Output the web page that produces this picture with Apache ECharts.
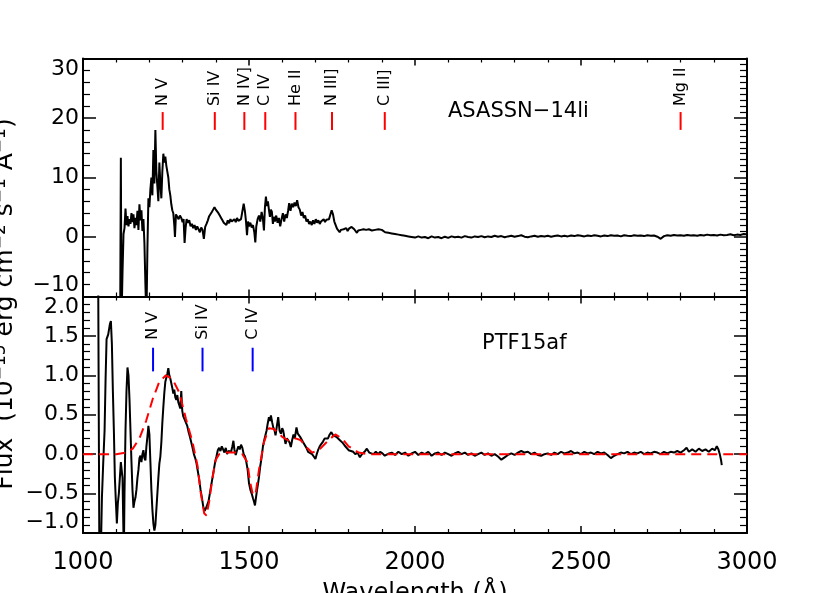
<!DOCTYPE html>
<html><head><meta charset="utf-8">
<script src="https://cdn.jsdelivr.net/npm/echarts@6/dist/echarts.min.js"></script>
<style>html,body{margin:0;padding:0;background:#fff}#c{width:830px;height:593px}</style>
</head><body><div id="c"></div><script>
// ---------- data ----------
const xTicks = [1000, 1500, 2000, 2500, 3000];
const topYTicks = [-10, 0, 10, 20, 30];
const botYTicks = [-1.0, -0.5, 0.0, 0.5, 1.0, 1.5, 2.0];

// ASASSN-14li spectrum [wavelength, flux]
const asassnSpec = [
[1112,-14],[1114,13.3],[1116,-14],[1119,-6],[1122,0.5],[1125,1.5],[1128,4.8],[1131,2],[1134,3.5],[1137,1.8],
[1140,3],[1143,2.2],[1146,4],[1149,2.5],[1152,3.8],[1155,1.5],[1158,3.2],[1161,2],[1164,4.4],[1167,1.2],
[1170,5.5],[1173,2.8],[1176,4.5],[1179,1.0],[1182,3],[1185,-1],[1188,-8],[1191,-14],[1194,-2],[1197,6.5],
[1200,5],[1203,8],[1206,10],[1209,7],[1212,14.6],[1215,9],[1218,18],[1221,11],[1224,8.5],[1227,6],
[1230,12.5],[1233,9],[1236,6.5],[1239,11],[1242,14],[1245,12.5],[1248,13.5],[1251,12],[1254,11],[1257,10],
[1260,8],[1263,7],[1266,5.5],[1269,4.5],[1272,4],[1275,2],[1277,0],[1280,3.8],[1284,3.4],[1288,3],
[1292,3.6],[1296,3.2],[1300,2.5],[1303,3],[1306,-1],[1309,1.5],[1312,3],[1316,2.4],[1320,2.8],[1324,1.8],
[1328,2.2],[1332,1.5],[1336,2],[1340,1.2],[1344,1.8],[1348,1.3],[1352,0.8],[1356,1.6],[1360,1.2],[1364,-0.3],
[1368,1.7],[1372,2.2],[1376,2.8],[1380,3.5],[1384,3.8],[1388,4.2],[1392,4.6],[1396,5],[1400,4.6],[1404,4.8],
[1408,4],[1412,3.6],[1416,3.2],[1420,2.8],[1424,2.4],[1428,2.6],[1432,2],[1436,2.8],[1440,2.3],[1444,3],
[1448,2.6],[1452,2.4],[1456,3],[1460,2.5],[1464,3.2],[1468,2.7],[1472,2.4],[1476,3],[1480,4.3],[1484,5.6],
[1488,4.2],[1491,2.6],[1494,0.3],[1497,2.6],[1500,1.8],[1504,2.4],[1508,1.6],[1512,2],[1516,0.8],[1519,-0.9],
[1522,1.8],[1526,3],[1530,3.6],[1534,2.6],[1538,4.2],[1542,3],[1545,1.1],[1548,5],[1551,6.8],[1554,5.2],
[1557,6],[1560,4.6],[1563,3.4],[1566,4.6],[1569,4.2],[1572,2.2],[1575,3.4],[1578,2.6],[1582,3.6],[1586,2.4],
[1590,3.2],[1594,1.8],[1598,3],[1602,4],[1606,2.6],[1610,3.8],[1614,3.2],[1618,4.5],[1621,5.7],[1625,4.4],
[1629,5.6],[1633,5],[1637,5.8],[1641,5.2],[1645,6.2],[1649,5],[1653,4.6],[1657,3.6],[1661,4.2],[1665,3.2],
[1669,3.6],[1673,2.6],[1677,3],[1681,2.2],[1685,2.6],[1689,2],[1693,2.8],[1697,2.2],[1701,3],[1705,2.4],
[1709,2.8],[1713,2.2],[1717,2.6],[1721,2.4],[1725,3],[1729,2.5],[1733,2.9],[1737,2.6],[1741,3],[1745,3.2],
[1749,4.5],[1753,3.8],[1757,2.6],[1761,2],[1765,1.4],[1769,1.2],[1773,0.8],[1777,1.2],[1781,0.9],[1785,1.3],
[1789,1.1],[1793,1.5],[1797,1.0],[1801,1.4],[1805,1.2],[1809,1.7],[1813,2],[1817,1.3],[1821,1.0],[1825,0.7],
[1829,1.1],[1833,0.8],[1837,1.2],[1841,0.9],[1845,1.3],[1849,1.0],[1853,1.2],[1857,0.9],[1861,1.3],[1865,1.0],
[1870,1.1],[1875,0.8],[1880,1.2],[1885,0.9],[1890,1.3],[1895,1.0],[1900,1.2],[1905,1.1],[1910,0.8],[1915,1.0],
[1920,0.7],[1925,0.9],[1930,0.6],[1935,0.8],[1940,0.5],[1945,0.7],[1950,0.4],[1955,0.6],[1960,0.3],[1965,0.5],
[1970,0.2],[1975,0.4],[1980,0.1],[1985,0.3],[1990,0],[1995,0.2],[2000,-0.1],[2010,0.1],[2020,-0.1],[2030,0.0],
[2040,-0.2],[2050,0.1],[2060,-0.1],[2070,0.0],[2080,-0.2],[2090,0.05],[2100,-0.15],[2110,0.1],[2120,-0.05],[2130,0.05],
[2140,-0.1],[2150,0.15],[2160,0.0],[2170,-0.1],[2180,0.1],[2190,0.0],[2200,0.15],[2210,-0.05],[2220,0.1],[2230,0.0],
[2240,0.2],[2250,0.05],[2260,0.15],[2270,-0.05],[2280,0.1],[2290,0.2],[2300,0.05],[2310,0.15],[2320,0.3],[2330,0.05],
[2340,-0.05],[2350,0.1],[2360,0.2],[2370,0.05],[2380,0.15],[2390,0.1],[2400,0.2],[2410,0.05],[2420,0.15],[2430,0.25],
[2440,0.1],[2450,0.2],[2460,0.1],[2470,0.25],[2480,0.15],[2490,0.3],[2500,0.2],[2510,0.1],[2520,0.25],[2530,0.15],
[2540,0.3],[2550,0.2],[2560,0.1],[2570,0.25],[2580,0.15],[2590,0.3],[2600,0.2],[2610,0.25],[2620,0.1],[2630,0.3],
[2640,0.2],[2650,0.15],[2660,0.3],[2670,0.2],[2680,0.25],[2690,0.15],[2700,0.3],[2710,0.2],[2720,0.25],[2730,0.05],
[2740,-0.3],[2750,0.15],[2760,0.3],[2770,0.2],[2780,0.35],[2790,0.25],[2800,0.3],[2810,0.2],[2820,0.35],[2830,0.25],
[2840,0.3],[2850,0.2],[2860,0.35],[2870,0.25],[2880,0.4],[2890,0.3],[2900,0.35],[2910,0.25],[2920,0.4],[2930,0.3],
[2940,0.35],[2950,0.45],[2960,0.3],[2970,0.4],[2980,0.35],[2990,0.5],[2998,0.45]
];

// PTF15af spectrum [wavelength, flux]
const ptfSpec = [
[1045,3],[1050,-2],[1054,-1.2],[1057,-0.55],[1061,-0.1],[1065,0.3],[1068,0.95],[1071,1.46],[1076,1.52],[1081,1.65],
[1084,1.69],[1087,1.4],[1090,0.8],[1093,0.3],[1096,-0.3],[1099,-0.6],[1102,-0.88],[1105,-0.62],[1108,-0.5],[1111,-0.3],
[1114,-0.1],[1117,-0.08],[1119,-0.3],[1121,-0.8],[1123,-1.3],[1125,-0.5],[1128,0.3],[1131,0.8],[1134,1.1],[1137,1.0],
[1140,0.7],[1143,0.3],[1146,-0.1],[1149,-0.45],[1152,-0.68],[1155,-0.6],[1158,-0.55],[1161,-0.45],[1164,-0.3],[1167,-0.2],
[1170,-0.05],[1173,-0.02],[1176,-0.1],[1179,0.0],[1182,0.05],[1185,-0.05],[1188,-0.08],[1191,0.1],[1194,0.22],[1197,0.36],
[1200,0.25],[1203,-0.1],[1206,-0.45],[1209,-0.7],[1212,-0.88],[1215,-0.97],[1218,-0.9],[1221,-0.7],[1224,-0.5],[1227,-0.3],
[1230,-0.12],[1233,-0.03],[1236,0.15],[1239,0.4],[1242,0.6],[1245,0.78],[1248,0.92],[1251,0.97],[1254,1.02],[1257,1.09],
[1260,1.0],[1263,0.96],[1266,0.9],[1269,0.84],[1272,0.77],[1275,0.82],[1278,0.72],[1281,0.69],[1284,0.75],[1287,0.66],
[1290,0.62],[1293,0.58],[1296,0.8],[1299,0.55],[1302,0.48],[1306,0.44],[1310,0.4],[1314,0.36],[1318,0.28],[1322,0.22],
[1326,0.15],[1330,0.08],[1334,0.0],[1338,-0.05],[1342,-0.12],[1346,-0.22],[1350,-0.32],[1354,-0.45],[1358,-0.55],[1362,-0.66],
[1366,-0.72],[1370,-0.69],[1374,-0.67],[1378,-0.6],[1382,-0.5],[1386,-0.4],[1390,-0.3],[1394,-0.2],[1398,-0.1],[1402,-0.03],
[1406,0.05],[1410,0.08],[1414,0.04],[1418,0.1],[1422,0.06],[1426,0.02],[1430,0.08],[1434,0.0],[1438,0.04],[1442,0.06],
[1446,0.03],[1450,0.1],[1453,0.17],[1456,0.06],[1460,-0.01],[1464,0.05],[1468,0.1],[1472,0.06],[1476,0.12],[1480,0.08],
[1484,0.0],[1488,-0.03],[1492,-0.1],[1496,-0.2],[1500,-0.37],[1504,-0.45],[1508,-0.5],[1512,-0.56],[1515,-0.6],[1518,-0.65],
[1521,-0.55],[1524,-0.46],[1527,-0.38],[1530,-0.29],[1534,-0.15],[1538,-0.04],[1542,0.1],[1546,0.18],[1550,0.25],[1553,0.3],
[1556,0.38],[1560,0.47],[1563,0.42],[1566,0.49],[1570,0.4],[1573,0.34],[1577,0.3],[1580,0.24],[1584,0.36],[1588,0.47],
[1592,0.3],[1596,0.26],[1600,0.33],[1603,0.3],[1607,0.2],[1610,0.13],[1614,0.2],[1618,0.22],[1622,0.15],[1626,0.09],
[1630,0.18],[1634,0.25],[1638,0.2],[1643,0.34],[1647,0.26],[1650,0.28],[1654,0.22],[1658,0.2],[1663,0.15],[1668,0.13],
[1673,0.08],[1678,0.03],[1684,0.04],[1690,0.0],[1695,-0.03],[1700,-0.06],[1704,0.0],[1708,0.05],[1713,0.1],[1718,0.13],
[1723,0.16],[1728,0.2],[1733,0.22],[1738,0.2],[1743,0.25],[1748,0.28],[1753,0.24],[1758,0.26],[1763,0.22],[1768,0.2],
[1773,0.18],[1778,0.17],[1783,0.14],[1788,0.11],[1794,0.09],[1800,0.05],[1806,0.06],[1814,0.03],[1820,0.0],[1827,0.02],
[1834,-0.04],[1840,0.0],[1848,0.03],[1855,0.07],[1862,0.02],[1868,0.04],[1875,0.0],[1882,0.03],[1889,0.0],[1895,0.03],
[1902,0.01],[1909,-0.02],[1915,-0.02],[1922,0.01],[1930,0.02],[1940,-0.01],[1950,0.03],[1960,0.0],[1970,0.02],[1980,-0.02],
[1990,0.01],[2000,0.03],[2010,-0.01],[2020,0.02],[2030,0.0],[2040,0.03],[2050,-0.02],[2060,0.01],[2070,0.02],[2080,-0.01],
[2090,0.02],[2100,0.0],[2110,-0.02],[2120,0.01],[2130,0.03],[2140,0.0],[2150,0.02],[2160,-0.01],[2170,0.01],[2180,-0.02],
[2190,0.0],[2200,0.02],[2210,-0.01],[2220,0.01],[2230,-0.02],[2240,0.0],[2250,-0.03],[2260,-0.07],[2270,-0.04],[2280,-0.01],
[2290,0.01],[2300,-0.01],[2310,0.02],[2320,0.04],[2330,0.02],[2340,0.03],[2350,0.0],[2360,0.02],[2370,-0.01],[2380,-0.02],
[2390,0.0],[2400,0.01],[2410,-0.01],[2420,0.02],[2430,0.0],[2440,0.03],[2450,0.01],[2460,0.02],[2470,0.04],[2480,0.01],
[2490,0.02],[2500,0.0],[2510,0.03],[2520,0.01],[2530,0.02],[2540,0.0],[2550,0.03],[2560,0.01],[2570,0.02],[2580,-0.01],
[2590,-0.05],[2600,-0.02],[2610,0.0],[2620,0.02],[2630,0.01],[2640,0.03],[2650,0.0],[2660,0.02],[2670,0.01],[2680,0.03],
[2690,0.0],[2700,0.02],[2710,0.01],[2720,0.03],[2730,0.02],[2740,0.0],[2750,0.03],[2760,0.01],[2770,0.03],[2780,0.02],
[2790,0.04],[2800,0.02],[2810,0.05],[2818,0.08],[2825,0.03],[2835,0.06],[2845,0.03],[2855,0.07],[2865,0.04],[2875,0.06],
[2885,0.03],[2895,0.07],[2903,0.05],[2909,0.1],[2914,0.06],[2918,0.0],[2922,-0.08],[2924,-0.14]
];

// PTF15af model (red dashed)
const ptfModel = [
[1000,0],[1100,0],[1130,0.02],[1150,0.07],[1170,0.2],[1190,0.42],[1210,0.7],[1230,0.92],[1250,1.0],[1270,0.95],
[1290,0.78],[1310,0.45],[1330,0.15],[1345,-0.15],[1355,-0.5],[1365,-0.75],[1372,-0.78],[1380,-0.6],[1390,-0.3],[1400,-0.07],
[1410,0.0],[1430,0.02],[1460,0.02],[1480,0.0],[1495,-0.1],[1503,-0.35],[1512,-0.52],[1520,-0.5],[1530,-0.2],[1545,0.15],
[1560,0.33],[1575,0.32],[1600,0.22],[1620,0.17],[1640,0.2],[1655,0.18],[1670,0.1],[1690,0.02],[1710,0.05],[1740,0.18],
[1760,0.25],[1780,0.2],[1800,0.1],[1830,0.02],[1860,0],[3000,0]
];

// line identifications
const topLineWaves = [1240, 1397, 1486, 1549, 1640, 1750, 1909, 2800];
const topLineNames = ['N V', 'Si IV', 'N IV]', 'C IV', 'He II', 'N III]', 'C III]', 'Mg II'];
const botLineWaves = [1211, 1360, 1511];
const botLineNames = ['N V', 'Si IV', 'C IV'];

// ---------- chart ----------
const FONT = '"DejaVu Sans"';
const minus = s => String(s).replace('-', '\u2212');

function xAx(gridIndex, position, showLabels) {
  return {
    type: 'value', gridIndex, position, min: xTicks[0], max: xTicks[xTicks.length - 1], interval: 500,
    axisLine: { show: true, onZero: false, lineStyle: { color: '#000', width: 2 } },
    axisTick: { show: true, inside: true, length: 7, lineStyle: { color: '#000', width: 1.5 } },
    minorTick: { show: true, splitNumber: 5, length: 4, lineStyle: { color: '#000', width: 1.2 } },
    axisLabel: { show: showLabels, margin: 18, color: '#000', fontSize: 24, fontFamily: 'DejaVu Sans',
      formatter: v => String(v) },
    splitLine: { show: false }, minorSplitLine: { show: false }
  };
}
function yAx(gridIndex, position, min, max, interval, minorSplit, showLabels, fmt) {
  return {
    type: 'value', gridIndex, position, min, max, interval,
    axisLine: { show: true, onZero: false, lineStyle: { color: '#000', width: 2 } },
    axisTick: { show: true, inside: true, length: 13, lineStyle: { color: '#000', width: 1.5 } },
    minorTick: { show: true, splitNumber: minorSplit, length: 7, lineStyle: { color: '#000', width: 1.2 } },
    axisLabel: { show: showLabels, margin: 4, color: '#000', fontSize: 22, fontFamily: 'DejaVu Sans',
      formatter: fmt, verticalAlignMinLabel: 'bottom', verticalAlignMaxLabel: 'top' },
    splitLine: { show: false }, minorSplitLine: { show: false }
  };
}
function markerRender(names, yLo, yHi, color, gap) {
  return function (params, api) {
    const w = api.value(0), k = api.value(1);
    const p1 = api.coord([w, yLo]), p2 = api.coord([w, yHi]);
    return { type: 'group', children: [
      { type: 'line', shape: { x1: p1[0], y1: p1[1], x2: p2[0], y2: p2[1] }, style: { stroke: color, lineWidth: 2 } },
      { type: 'text', x: p2[0], y: p2[1] - gap, rotation: Math.PI / 2,
        style: { text: names[k], align: 'left', verticalAlign: 'middle', fill: '#000', font: '16px ' + FONT } }
    ] };
  };
}

const chart = echarts.init(document.getElementById('c'), null, { renderer: 'canvas' });
chart.setOption({
  animation: false,
  backgroundColor: '#fff',
  grid: [
    { left: 83, right: 83, top: 58.5, height: 238 },
    { left: 83, right: 83, top: 296.5, height: 236.5 }
  ],
  xAxis: [xAx(0, 'bottom', false), xAx(0, 'top', false), xAx(1, 'bottom', true), xAx(1, 'top', false)],
  yAxis: [
    yAx(0, 'left', topYTicks[0], topYTicks[topYTicks.length - 1], 10, 5, true, v => minus(v)),
    yAx(0, 'right', topYTicks[0], topYTicks[topYTicks.length - 1], 10, 10, false),
    yAx(1, 'left', botYTicks[0], botYTicks[botYTicks.length - 1], 0.5, 5, true, v => minus(v.toFixed(1))),
    yAx(1, 'right', botYTicks[0], botYTicks[botYTicks.length - 1], 0.5, 5, false)
  ],
  graphic: [
    { type: 'text', x: 448, y: 112, style: { text: 'ASASSN\u221214li', align: 'left', verticalAlign: 'middle', fill: '#000', font: '21px ' + FONT } },
    { type: 'text', x: 482, y: 344, style: { text: 'PTF15af', align: 'left', verticalAlign: 'middle', fill: '#000', font: '21px ' + FONT } },
    { type: 'text', x: 415, y: 582, style: { text: 'Wavelength (\u00c5)', align: 'center', verticalAlign: 'top', fill: '#000', font: '24px ' + FONT } },
    { type: 'text', x: 5, y: 304, rotation: Math.PI / 2,
      style: { text: '{n|Flux  (10}{s|\u221215}{n| erg cm}{s|\u22122}{n| s}{s|\u22121}{n| \u00c5}{s|\u22121}{n|)}',
        align: 'center', verticalAlign: 'middle', fill: '#000',
        rich: { n: { fontSize: 25, lineHeight: 25, fontFamily: 'DejaVu Sans', verticalAlign: 'bottom', fill: '#000' },
                s: { fontSize: 17, lineHeight: 17, fontFamily: 'DejaVu Sans', verticalAlign: 'top', fill: '#000' } },
        lineHeight: 34 } }
  ],
  series: [
    { type: 'line', xAxisIndex: 0, yAxisIndex: 0, data: asassnSpec, symbol: 'none', clip: true,
      lineStyle: { color: '#000', width: 2 } },
    { type: 'custom', xAxisIndex: 0, yAxisIndex: 0, data: topLineWaves.map((w, i) => [w, i]),
      renderItem: markerRender(topLineNames, 18, 21, '#ff0000', 6) },
    { type: 'line', xAxisIndex: 2, yAxisIndex: 2, data: ptfModel, symbol: 'none', clip: true, z: 3,
      lineStyle: { color: '#ff0000', width: 2, type: [10, 6] } },
    { type: 'line', xAxisIndex: 2, yAxisIndex: 2, data: ptfSpec, symbol: 'none', clip: true, z: 2,
      lineStyle: { color: '#000', width: 2 } },
    { type: 'custom', xAxisIndex: 2, yAxisIndex: 2, data: botLineWaves.map((w, i) => [w, i]),
      renderItem: markerRender(botLineNames, 1.05, 1.35, '#0000ff', 8) }
  ]
});
</script></body></html>
